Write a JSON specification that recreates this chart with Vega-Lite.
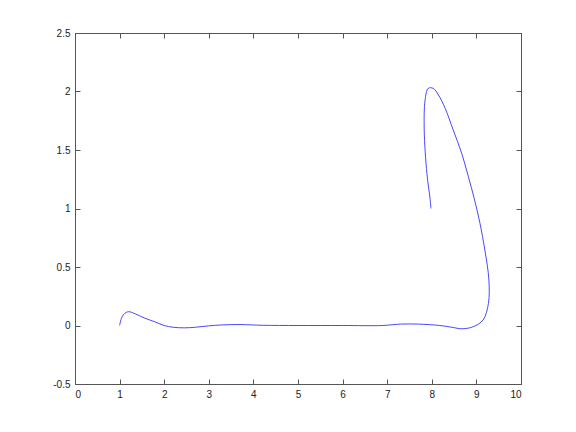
{
  "$schema": "https://vega.github.io/schema/vega-lite/v6.json",
  "autosize": "none",
  "width": 446,
  "height": 351,
  "padding": {"left": 75, "top": 33, "right": 55, "bottom": 48},
  "background": "white",
  "config": {
    "view": {"stroke": "#555555", "strokeWidth": 1},
    "axis": {"grid": false, "domainColor": "#555555", "tickColor": "#555555", "tickSize": -5, "labelFont": "Liberation Sans", "labelFontSize": 10, "labelColor": "#222222", "title": null}
  },
  "data": {"values": [
    {"t": 1, "x": 1.0, "y": 0.0},
    {"t": 2, "x": 1.05, "y": 0.07},
    {"t": 3, "x": 1.12, "y": 0.105},
    {"t": 4, "x": 1.2, "y": 0.118},
    {"t": 5, "x": 1.35, "y": 0.1},
    {"t": 6, "x": 1.55, "y": 0.065},
    {"t": 7, "x": 1.8, "y": 0.03},
    {"t": 8, "x": 2.0, "y": 0.0},
    {"t": 9, "x": 2.2, "y": -0.015},
    {"t": 10, "x": 2.45, "y": -0.02},
    {"t": 11, "x": 2.7, "y": -0.015},
    {"t": 12, "x": 3.0, "y": -0.003},
    {"t": 13, "x": 3.3, "y": 0.005},
    {"t": 14, "x": 3.7, "y": 0.008},
    {"t": 15, "x": 4.2, "y": 0.002},
    {"t": 16, "x": 5.0, "y": 0.0},
    {"t": 17, "x": 6.0, "y": 0.0},
    {"t": 18, "x": 6.9, "y": 0.0},
    {"t": 19, "x": 7.3, "y": 0.012},
    {"t": 20, "x": 7.7, "y": 0.012},
    {"t": 21, "x": 8.18, "y": 0.0},
    {"t": 22, "x": 8.45, "y": -0.015},
    {"t": 23, "x": 8.68, "y": -0.028},
    {"t": 24, "x": 8.93, "y": -0.01},
    {"t": 25, "x": 9.15, "y": 0.047},
    {"t": 26, "x": 9.27, "y": 0.19},
    {"t": 27, "x": 9.28, "y": 0.389},
    {"t": 28, "x": 9.19, "y": 0.645},
    {"t": 29, "x": 9.08, "y": 0.874},
    {"t": 30, "x": 8.95, "y": 1.087},
    {"t": 31, "x": 8.82, "y": 1.272},
    {"t": 32, "x": 8.67, "y": 1.472},
    {"t": 33, "x": 8.48, "y": 1.671},
    {"t": 34, "x": 8.3, "y": 1.856},
    {"t": 35, "x": 8.15, "y": 1.97},
    {"t": 36, "x": 8.03, "y": 2.027},
    {"t": 37, "x": 7.92, "y": 2.027},
    {"t": 38, "x": 7.85, "y": 1.927},
    {"t": 39, "x": 7.83, "y": 1.671},
    {"t": 40, "x": 7.89, "y": 1.3},
    {"t": 41, "x": 7.96, "y": 1.087},
    {"t": 42, "x": 7.98, "y": 1.0}
  ]},
  "layer": [
    {
      "mark": {"type": "line", "color": "#3333ff", "strokeWidth": 0.9, "interpolate": "catmull-rom"},
      "encoding": {
        "x": {"field": "x", "type": "quantitative", "scale": {"domain": [0, 10], "nice": false, "zero": false},
              "axis": {"orient": "bottom", "values": [0,1,2,3,4,5,6,7,8,9,10], "labelExpr": "toString(datum.value)", "labelPadding": 10}},
        "y": {"field": "y", "type": "quantitative", "scale": {"domain": [-0.5, 2.5], "nice": false, "zero": false},
              "axis": {"orient": "left", "values": [-0.5,0,0.5,1,1.5,2,2.5], "labelExpr": "toString(datum.value)", "labelPadding": 10}},
        "order": {"field": "t", "type": "quantitative"}
      }
    },
    {
      "mark": {"type": "line", "opacity": 0},
      "encoding": {
        "x": {"field": "x", "type": "quantitative", "axis": {"orient": "top", "values": [0,1,2,3,4,5,6,7,8,9,10], "labels": false}},
        "y": {"field": "y", "type": "quantitative", "axis": {"orient": "right", "values": [-0.5,0,0.5,1,1.5,2,2.5], "labels": false}},
        "order": {"field": "t", "type": "quantitative"}
      }
    }
  ],
  "resolve": {"axis": {"x": "independent", "y": "independent"}}
}
